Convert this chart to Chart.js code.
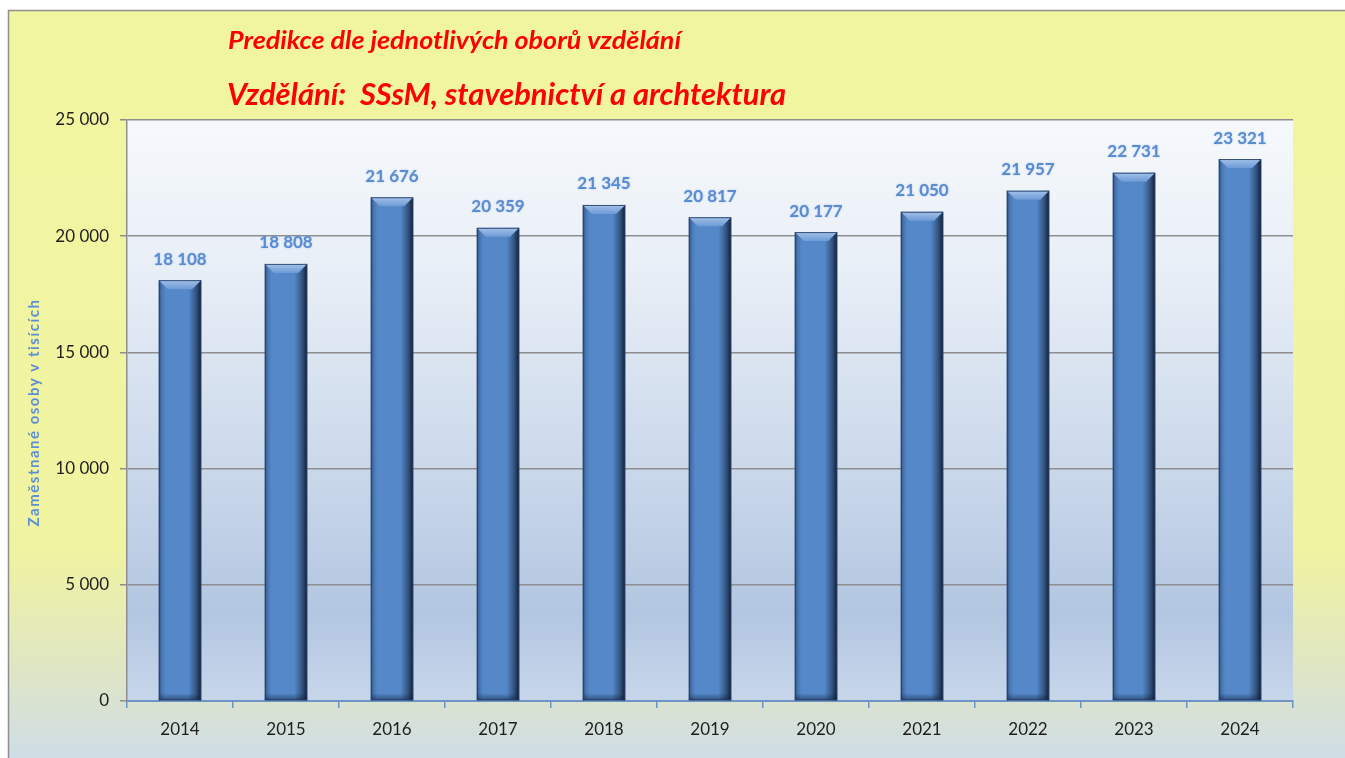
<!DOCTYPE html>
<html>
<head>
<meta charset="utf-8">
<script src="https://cdn.jsdelivr.net/npm/chart.js@4.4.1/dist/chart.umd.min.js"></script>
<style>
  html, body { margin: 0; padding: 0; background: #fff; overflow: hidden; }
  #wrap { width: 1345px; height: 758px; position: relative; }
</style>
</head>
<body>
<div id="wrap"><canvas id="chart" width="1345" height="758"></canvas></div>
<script>
// Zaměstnané osoby podle let
const years = ['2014', '2015', '2016', '2017', '2018', '2019', '2020', '2021', '2022', '2023', '2024'];
const employed = [18108, 18808, 21676, 20359, 21345, 20817, 20177, 21050, 21957, 22731, 23321];
const yTicks = [0, 5000, 10000, 15000, 20000, 25000];

const chartTitle = 'Predikce dle jednotlivých oborů vzdělání';
const chartSubtitle = 'Vzdělání:  SSsM, stavebnictví a archtektura';
const yAxisTitle = 'Zaměstnané osoby v tisících';

// 18108 -> "18 108"
function fmt(v) {
    return String(v).replace(/\B(?=(\d{3})+(?!\d))/g, ' ');
}

// text squeezed/stretched horizontally to a given width
function fitText(ctx, text, x, y, w) {
    const m = ctx.measureText(text).width;
    ctx.save();
    ctx.translate(x, y);
    ctx.scale(w / m, 1);
    ctx.fillText(text, 0, 0);
    ctx.restore();
}

// frame, page gradient, plot gradient, headings and axis title
const backgroundPlugin = {
    id: 'backgroundPlugin',
    beforeDraw: (chart) => {
        const {ctx, width, height, chartArea: {top, bottom, left, right}} = chart;
        ctx.save();
        ctx.fillStyle = '#ffffff';
        ctx.fillRect(0, 0, width, height);

        const bg = ctx.createLinearGradient(0, 10, 0, height);
        bg.addColorStop(0, '#f2f5a0');
        bg.addColorStop(0.72, '#f0f3a0');
        bg.addColorStop(0.88, '#dfe6c4');
        bg.addColorStop(1, '#cfdde6');
        ctx.fillStyle = bg;
        ctx.fillRect(9, 11, width - 9, height - 11);

        ctx.strokeStyle = '#8e8e8e';
        ctx.lineWidth = 1.5;
        ctx.beginPath();
        ctx.moveTo(8.5, height);
        ctx.lineTo(8.5, 10.5);
        ctx.lineTo(width, 10.5);
        ctx.stroke();

        const plot = ctx.createLinearGradient(0, top, 0, bottom);
        plot.addColorStop(0, '#f6f9fc');
        plot.addColorStop(0.25, '#e9eff7');
        plot.addColorStop(0.6, '#cad8ea');
        plot.addColorStop(0.85, '#b3c6e1');
        plot.addColorStop(1, '#c7d6ea');
        ctx.fillStyle = plot;
        ctx.fillRect(left, top, right - left, bottom - top);

        ctx.fillStyle = '#ff0000';
        ctx.textBaseline = 'middle';
        ctx.textAlign = 'left';
        ctx.font = 'italic bold 25px Lato';
        fitText(ctx, chartTitle, 228, 41, 453);
        ctx.font = 'italic bold 31px Lato';
        fitText(ctx, chartSubtitle, 227, 95, 559);

        // rotated axis title
        ctx.save();
        ctx.translate(34, (top + bottom) / 2 + 2);
        ctx.rotate(-Math.PI / 2);
        ctx.textAlign = 'center';
        ctx.fillStyle = '#5d8fd3';
        ctx.letterSpacing = '1.5px';
        ctx.font = 'bold 15px Lato';
        ctx.fillText(yAxisTitle, 0, 0);
        ctx.restore();
        ctx.restore();
    }
};

// bevelled bar look + value labels
const barStylePlugin = {
    id: 'barStylePlugin',
    afterDatasetsDraw: (chart) => {
        const ctx = chart.ctx;
        const meta = chart.getDatasetMeta(0);
        ctx.save();
        meta.data.forEach((bar, i) => {
            const {x, y, base, width} = bar.getProps(['x', 'y', 'base', 'width'], true);
            const l = x - width / 2, r = x + width / 2, h = base - y;

            const side = ctx.createLinearGradient(l, 0, r, 0);
            side.addColorStop(0, 'rgba(25,45,80,0.6)');
            side.addColorStop(0.07, 'rgba(25,45,80,0.2)');
            side.addColorStop(0.16, 'rgba(25,45,80,0)');
            side.addColorStop(0.7, 'rgba(10,20,40,0)');
            side.addColorStop(0.88, 'rgba(10,20,40,0.45)');
            side.addColorStop(1, 'rgba(5,10,20,0.85)');
            ctx.fillStyle = side;
            ctx.fillRect(l, y, width, h);

            // bottom shade
            const bot = ctx.createLinearGradient(0, base - 7, 0, base);
            bot.addColorStop(0, 'rgba(10,25,50,0)');
            bot.addColorStop(1, 'rgba(10,25,50,0.5)');
            ctx.fillStyle = bot;
            ctx.fillRect(l, base - 7, width, 7);

            // top bevel
            const bev = 9;
            const topG = ctx.createLinearGradient(0, y, 0, y + bev);
            topG.addColorStop(0, '#a3c1e8');
            topG.addColorStop(1, '#6d9ad6');
            ctx.fillStyle = topG;
            ctx.beginPath();
            ctx.moveTo(l, y);
            ctx.lineTo(r, y);
            ctx.lineTo(r - bev, y + bev);
            ctx.lineTo(l + bev, y + bev);
            ctx.closePath();
            ctx.fill();

            ctx.strokeStyle = 'rgba(35,60,100,0.85)';
            ctx.lineWidth = 1;
            ctx.strokeRect(l + 0.5, y + 0.5, width - 1, h - 1);

            ctx.font = 'bold 17px Lato';
            ctx.textAlign = 'center';
            ctx.textBaseline = 'middle';
            ctx.shadowColor = 'rgba(120,160,220,0.6)';
            ctx.shadowBlur = 2;
            ctx.fillStyle = '#5a8cd2';
            ctx.fillText(fmt(employed[i]), x, y - 21);
            ctx.shadowBlur = 0;
        });
        ctx.restore();
    }
};

const ctx = document.getElementById('chart').getContext('2d');

const chart = new Chart(ctx, {
    type: 'bar',
    data: {
        labels: years,
        datasets: [{
            data: employed,
            backgroundColor: '#5588c9',
            borderWidth: 0,
            categoryPercentage: 1,
            barPercentage: 0.4
        }]
    },
    options: {
        responsive: false,
        animation: false,
        layout: {
            padding: {left: 20, right: 52, top: 120, bottom: 12}
        },
        plugins: {
            legend: {display: false},
            tooltip: {enabled: false}
        },
        scales: {
            x: {
                afterFit: (scale) => { scale.height = 45; },
                grid: {
                    offset: true,
                    drawOnChartArea: false,
                    drawTicks: true,
                    tickLength: 7,
                    color: '#6f93c4',
                    lineWidth: 1.5
                },
                border: {color: '#6f93c4', width: 2},
                ticks: {
                    color: '#1e1e1e',
                    padding: 11,
                    font: {family: 'Lato', size: 17}
                }
            },
            y: {
                min: 0,
                max: 25000,
                afterFit: (scale) => { scale.width = 107; },
                afterBuildTicks: (scale) => {
                    scale.ticks = yTicks.map(v => ({value: v}));
                },
                grid: {
                    color: '#8e8e8e',
                    lineWidth: 1.5,
                    tickLength: 7
                },
                border: {color: '#8e8e8e', width: 1.5},
                ticks: {
                    color: '#1e1e1e',
                    padding: 11,
                    font: {family: 'Lato', size: 17},
                    callback: (v) => fmt(v)
                }
            }
        }
    },
    plugins: [backgroundPlugin, barStylePlugin]
});
</script>
</body>
</html>
